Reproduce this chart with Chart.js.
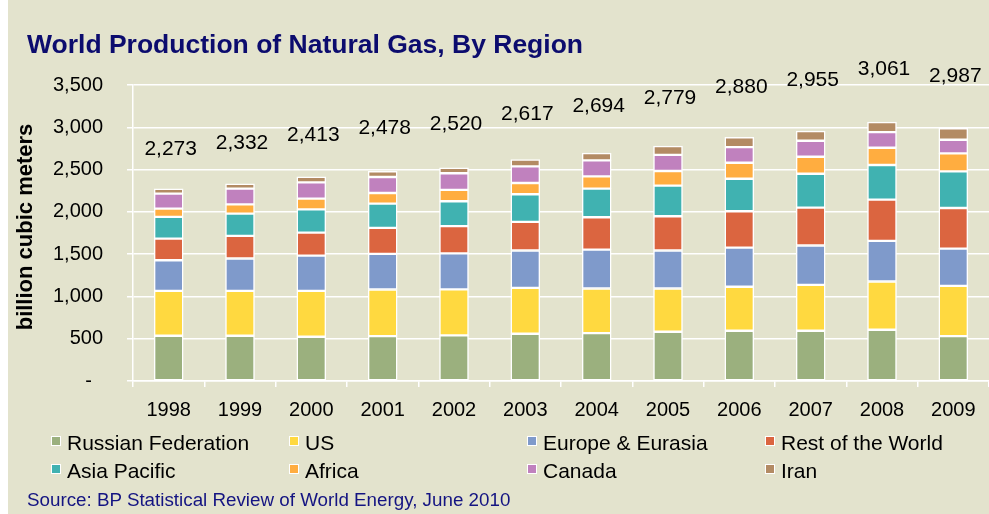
<!DOCTYPE html>
<html>
<head>
<meta charset="utf-8">
<script src="https://cdn.jsdelivr.net/npm/chart.js@4.4.0/dist/chart.umd.min.js"></script>
<style>
  body { margin: 0; width: 989px; height: 514px; overflow: hidden; background: #fff; font-family: "Liberation Sans", Arial, sans-serif; }
  #bg { position: absolute; left: 8px; top: 0; width: 981px; height: 514px; background: #E3E3CD; }
  #c { position: absolute; left: 0; top: 0; }
  .title { position: absolute; left: 27px; top: 31px; font-size: 26.5px; line-height: 26.5px; font-weight: bold; color: #0C0C6E; white-space: nowrap; }
  .ytitle { position: absolute; left: -125px; top: 216px; width: 300px; text-align: center; font-size: 22px; line-height: 22px; font-weight: bold; color: #000; transform: rotate(-90deg); white-space: nowrap; }
  .leg { position: absolute; height: 20px; white-space: nowrap; font-size: 21px; line-height: 21px; color: #000; }
  .leg .box { position: absolute; left: 0; top: 0; width: 8px; height: 8px; border: 1.5px solid #fff; }
  .leg .txt { position: absolute; left: 16px; top: -4px; }
  .source { position: absolute; left: 27px; top: 491px; font-size: 18.8px; line-height: 18.8px; color: #141482; white-space: nowrap; }
</style>
</head>
<body>
<div id="bg"></div>
<canvas id="c" width="989" height="514"></canvas>
<div class="title">World Production of Natural Gas, By Region</div>
<div class="ytitle">billion cubic meters</div>
<div id="legend"></div>
<div class="source">Source: BP Statistical Review of World Energy, June 2010</div>
<script>
// dados (bilhões de m³)
const years = ['1998', '1999', '2000', '2001', '2002', '2003', '2004', '2005', '2006', '2007', '2008', '2009'];
const russia = [535, 535, 523, 531, 539, 559, 567, 582, 594, 594, 606, 531];
const us = [531, 531, 543, 551, 545, 543, 527, 512, 520, 543, 571, 594];
const europe = [362, 382, 417, 421, 425, 441, 460, 449, 464, 465, 480, 441];
const restOfWorld = [256, 268, 272, 307, 322, 338, 382, 405, 429, 448, 488, 480];
const asiaPacific = [256, 263, 275, 287, 294, 327, 338, 362, 385, 401, 409, 433];
const africa = [98, 110, 126, 126, 135, 133, 146, 173, 189, 201, 204, 213];
const canada = [177, 185, 193, 189, 196, 197, 189, 190, 185, 189, 185, 161];
const iran = [58, 58, 64, 66, 64, 79, 85, 106, 114, 114, 118, 134];
const totals = [2273, 2332, 2413, 2478, 2520, 2617, 2694, 2779, 2880, 2955, 3061, 2987];
const yTicks = [0, 500, 1000, 1500, 2000, 2500, 3000, 3500];

const seriesNames = ['Russian Federation', 'US', 'Europe & Eurasia', 'Rest of the World', 'Asia Pacific', 'Africa', 'Canada', 'Iran'];
const seriesData = [russia, us, europe, restOfWorld, asiaPacific, africa, canada, iran];
const colors = ['#9BB07E', '#FFD940', '#7F9ACB', '#DB6540', '#40B2B1', '#FFAD40', '#C081BE', '#B38B64'];

function fmt(n) {
  return String(n).replace(/\B(?=(\d{3})+(?!\d))/g, ',');
}

// legenda em HTML (4 colunas, 2 linhas)
const legendEl = document.getElementById('legend');
const colLeft = [51, 289, 527, 765];
const rowTop = [436, 464];
seriesNames.forEach(function(name, i) {
  const item = document.createElement('div');
  item.className = 'leg';
  item.style.left = colLeft[i % 4] + 'px';
  item.style.top = rowTop[Math.floor(i / 4)] + 'px';
  item.innerHTML = '<span class="box" style="background:' + colors[i] + '"></span><span class="txt"></span>';
  item.querySelector('.txt').textContent = name;
  legendEl.appendChild(item);
});

// totais acima das barras
const totalLabels = {
  id: 'totalLabels',
  afterDatasetsDraw(chart) {
    const ctx = chart.ctx;
    const x = chart.scales.x;
    const y = chart.scales.y;
    ctx.save();
    ctx.font = '21px "Liberation Sans", Arial, sans-serif';
    ctx.fillStyle = '#000';
    ctx.textAlign = 'center';
    ctx.textBaseline = 'middle';
    totals.forEach(function(t, i) {
      ctx.fillText(fmt(t), x.getPixelForValue(i) + 2, y.getPixelForValue(t * 1.205));
    });
    ctx.restore();
  }
};

const ctx = document.getElementById('c').getContext('2d');
new Chart(ctx, {
  type: 'bar',
  data: {
    labels: years,
    datasets: seriesData.map(function(d, i) {
      return {
        label: seriesNames[i],
        data: d,
        backgroundColor: colors[i],
        borderColor: '#fff',
        borderWidth: 1.5,
        borderSkipped: false,
        barThickness: 29
      };
    })
  },
  options: {
    responsive: false,
    animation: false,
    devicePixelRatio: 1,
    layout: { padding: { top: 85, left: 0, right: 0, bottom: 0 } },
    plugins: {
      legend: { display: false },
      tooltip: { enabled: false }
    },
    scales: {
      x: {
        stacked: true,
        afterFit: function(s) { s.height = 133; },
        grid: { display: true, drawOnChartArea: false, drawTicks: true, tickLength: 6, color: '#fff', lineWidth: 1.5, offset: true },
        border: { display: true, color: '#fff', width: 1.5 },
        ticks: { color: '#000', font: { family: '"Liberation Sans", Arial, sans-serif', size: 20 }, padding: 11, maxRotation: 0 }
      },
      y: {
        stacked: true,
        min: 0,
        max: 3500,
        afterFit: function(s) { s.width = 133; },
        afterBuildTicks: function(s) { s.ticks = yTicks.map(function(v) { return { value: v }; }); },
        grid: { color: '#fff', lineWidth: 1.5, tickLength: 6 },
        border: { display: true, color: '#fff', width: 1.5 },
        ticks: {
          color: '#000',
          font: { family: '"Liberation Sans", Arial, sans-serif', size: 20 },
          padding: 24,
          callback: function(v) { return v === 0 ? '-  ' : fmt(v); }
        }
      }
    }
  },
  plugins: [totalLabels]
});
</script>
</body>
</html>
